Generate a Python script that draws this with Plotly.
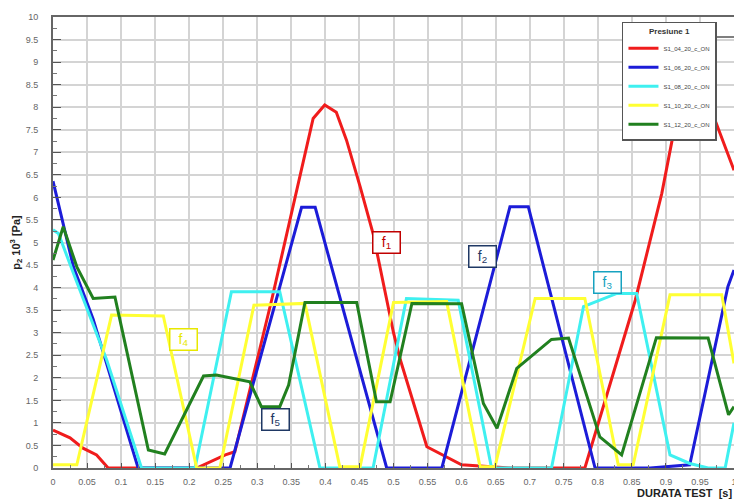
import plotly.graph_objects as go

# ---- data ----
red_x = [0, 0.025, 0.044, 0.064, 0.081, 0.211, 0.253, 0.267, 0.321, 0.382, 0.399, 0.416, 0.431, 0.451, 0.47, 0.5, 0.51, 0.549, 0.6, 0.671, 0.781, 0.855, 0.894, 0.913, 0.93, 0.947, 0.965, 1.0]
red_y = [0.84, 0.67, 0.44, 0.29, 0, 0, 0.29, 0.36, 3.72, 7.75, 8.05, 7.89, 7.27, 6.24, 5.2, 3.0, 2.4, 0.47, 0.07, 0, 0, 3.72, 6.09, 7.57, 8.0, 8.3, 8.0, 6.6]

blue_x = [0, 0.03, 0.059, 0.125, 0.26, 0.365, 0.385, 0.49, 0.571, 0.671, 0.698, 0.796, 0.877, 0.935, 0.991, 1.0]
blue_y = [6.36, 4.46, 3.3, 0, 0, 5.78, 5.78, 0, 0, 5.79, 5.79, 0, 0, 0.07, 4.02, 4.39]

cyan_x = [0, 0.008, 0.03, 0.054, 0.079, 0.13, 0.2085, 0.262, 0.333, 0.392, 0.47, 0.519, 0.595, 0.644, 0.732, 0.779, 0.828, 0.857, 0.906, 0.935, 0.962, 0.987, 1.0]
cyan_y = [5.28, 5.2, 4.32, 3.36, 2.39, 0, 0, 3.91, 3.91, 0, 0, 3.76, 3.72, 0, 0, 3.58, 3.87, 3.87, 0.29, 0.1, 0, 0, 1.0]

yellow_x = [0, 0.035, 0.086, 0.162, 0.211, 0.245, 0.295, 0.37, 0.421, 0.451, 0.5, 0.578, 0.627, 0.649, 0.708, 0.781, 0.83, 0.852, 0.906, 0.982, 1.0]
yellow_y = [0.07, 0.07, 3.39, 3.37, 0, 0, 3.61, 3.65, 0.03, 0.03, 3.67, 3.69, 0.03, 0.03, 3.76, 3.76, 0.07, 0.07, 3.84, 3.84, 2.32]

green_x = [0, 0.015, 0.035, 0.059, 0.091, 0.14, 0.164, 0.221, 0.24, 0.289, 0.306, 0.333, 0.346, 0.37, 0.446, 0.475, 0.495, 0.527, 0.6, 0.632, 0.652, 0.681, 0.732, 0.757, 0.803, 0.835, 0.886, 0.962, 0.992, 1.0]
green_y = [4.61, 5.35, 4.46, 3.76, 3.79, 0.4, 0.31, 2.04, 2.06, 1.91, 1.36, 1.36, 1.84, 3.67, 3.67, 1.47, 1.47, 3.65, 3.64, 1.43, 0.88, 2.21, 2.85, 2.88, 0.69, 0.29, 2.89, 2.88, 1.18, 1.36]

series_names = ["S1_04_20_c_ON", "S1_06_20_c_ON", "S1_08_20_c_ON", "S1_10_20_c_ON", "S1_12_20_c_ON"]
series_colors = ["#f01c1c", "#1c1cd8", "#3ff0f0", "#ffff33", "#21801f"]

label_text = ["f<sub>1</sub>", "f<sub>2</sub>", "f<sub>3</sub>", "f<sub>4</sub>", "f<sub>5</sub>"]
label_x = [0.489, 0.631, 0.814, 0.192, 0.326]
label_y = [5.0, 4.7, 4.12, 2.86, 1.07]
label_colors = ["#c00000", "#1f3864", "#17a2c0", "#e8e800", "#1f3864"]

FONT = "Liberation Sans, Arial, sans-serif"

fig = go.Figure()
for xs, ys, name, col in zip([red_x, blue_x, cyan_x, yellow_x, green_x],
                             [red_y, blue_y, cyan_y, yellow_y, green_y],
                             series_names, series_colors):
    fig.add_trace(go.Scatter(x=xs, y=ys, mode="lines", name=name,
                             line=dict(color=col, width=3)))

for t, x, y, c in zip(label_text, label_x, label_y, label_colors):
    fig.add_annotation(x=x, y=y, text=t, showarrow=False,
                       font=dict(family=FONT, size=14, color=c),
                       bordercolor=c, borderwidth=1.5, borderpad=2,
                       bgcolor="white", width=22, height=16)

# x axis title
fig.add_annotation(xref="paper", yref="paper", x=1.0, y=-0.055, xanchor="right", yanchor="middle",
                   text="<b>DURATA TEST  [s]</b>", showarrow=False,
                   font=dict(family=FONT, size=11, color="#222"))

# legend title underline
fig.add_shape(type="line", xref="paper", yref="paper", x0=0.8385, x1=1.003, y0=0.9557, y1=0.9557,
              line=dict(color="#555", width=1.5))

# page body has an 8px default margin, so the figure is sized/offset to compensate
fig.update_layout(
    width=734, height=496,
    margin=dict(l=45, r=8, t=9, b=36, autoexpand=False),
    paper_bgcolor="white", plot_bgcolor="white",
    font=dict(family=FONT),
    legend=dict(x=0.8355, y=0.989, xanchor="left", yanchor="top",
                bgcolor="white", bordercolor="#555", borderwidth=1.5,
                font=dict(size=6, color="#444"),
                title=dict(text="<b>Presiune 1</b>", side="top center",
                           font=dict(size=8, color="#333")),
                itemwidth=30, tracegroupgap=0),
    xaxis=dict(range=[0, 1], dtick=0.05, tick0=0, showgrid=True, gridcolor="#d4d4d4", gridwidth=1.5,
               ticks="inside", ticklen=5, tickcolor="#555", showline=True, linecolor="#666", linewidth=2,
               mirror=True, zeroline=False, ticklabelstandoff=4,
               tickfont=dict(size=9, color="#666"),
               minor=dict(dtick=0.025, ticks="inside", ticklen=3, tickcolor="#777", showgrid=False)),
    yaxis=dict(range=[0, 10], dtick=0.5, tick0=0, showgrid=True, gridcolor="#d4d4d4", gridwidth=1.5,
               ticks="inside", ticklen=8, tickcolor="#555", showline=True, linecolor="#666", linewidth=2,
               mirror=True, zeroline=False,
               tickfont=dict(size=9, color="#666"), ticklabelstandoff=11,
               title=dict(text="<b>p<sub>2</sub> 10<sup>3</sup> [Pa]</b>", standoff=4,
                          font=dict(size=11, color="#222")),
               minor=dict(dtick=0.25, ticks="inside", ticklen=4, tickcolor="#777", showgrid=False)),
)

fig.write_html("out.html")
